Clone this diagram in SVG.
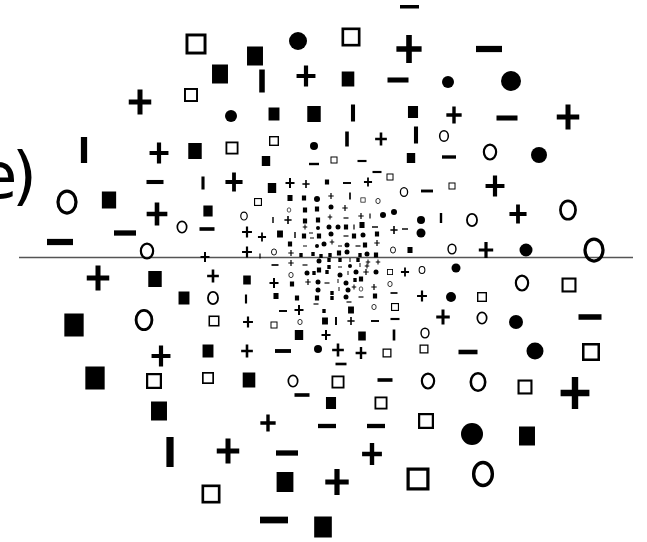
<svg xmlns="http://www.w3.org/2000/svg" width="647" height="542" viewBox="0 0 647 542">
<style>
.lbl{font-family:"DejaVu Sans","Liberation Sans",sans-serif;font-size:64px;fill:#000}
.axis{stroke:#555;stroke-width:1.5;fill:none}
</style>
<defs>
<rect id="fs" x="-0.42" y="-0.5" width="0.84" height="1" fill="#000"/>
<rect id="os" x="-0.43" y="-0.43" width="0.86" height="0.86" fill="none" stroke="#000" stroke-width="0.14"/>
<circle id="fc" r="0.5" fill="#000"/>
<ellipse id="oc" rx="0.36" ry="0.44" fill="none" stroke="#000" stroke-width="0.13"/>
<path id="pl" d="M-0.45,-0.1h0.9v0.2h-0.9zM-0.1,-0.5h0.2v1h-0.2z" fill="#000"/>
<rect id="mi" x="-0.5" y="-0.12" width="1" height="0.24" fill="#000"/>
<rect id="ba" x="-0.12" y="-0.5" width="0.24" height="1" fill="#000"/>
</defs>
<rect width="647" height="542" fill="#fff"/>
<g id="label"><text class="lbl" x="-22 12" y="198">e)</text></g>
<g id="axis"><line class="axis" x1="19" y1="257.5" x2="633" y2="257.5"/></g>
<g id="symbols">
<use href="#os" transform="translate(196 44) scale(21)"/>
<use href="#fs" transform="translate(220 74) scale(19)"/>
<use href="#pl" transform="translate(140 102) scale(25)"/>
<use href="#os" transform="translate(191 95) scale(14)"/>
<use href="#ba" transform="translate(84 150) scale(26)"/>
<use href="#pl" transform="translate(159 153) scale(21)"/>
<use href="#fs" transform="translate(195 151) scale(16)"/>
<use href="#mi" transform="translate(155 182) scale(17)"/>
<use href="#ba" transform="translate(203 183) scale(13)"/>
<use href="#oc" transform="translate(67 202) scale(25)"/>
<use href="#fs" transform="translate(109 200) scale(17)"/>
<use href="#pl" transform="translate(157 214) scale(23)"/>
<use href="#oc" transform="translate(182 227) scale(13)"/>
<use href="#fs" transform="translate(208 211) scale(11)"/>
<use href="#mi" transform="translate(207 229) scale(15)"/>
<use href="#mi" transform="translate(60 242) scale(26)"/>
<use href="#mi" transform="translate(125 233) scale(22)"/>
<use href="#oc" transform="translate(147 251) scale(17)"/>
<use href="#pl" transform="translate(205 257) scale(10)"/>
<rect x="400" y="5" width="19" height="3.5" fill="#000"/>
<use href="#fc" transform="translate(298 41) scale(18)"/>
<use href="#os" transform="translate(351 37) scale(19)"/>
<use href="#pl" transform="translate(409 49) scale(28)"/>
<use href="#fs" transform="translate(255 56) scale(19)"/>
<use href="#ba" transform="translate(262 81) scale(23)"/>
<use href="#pl" transform="translate(306 76) scale(21)"/>
<use href="#fs" transform="translate(348 79) scale(15)"/>
<use href="#mi" transform="translate(398 80) scale(21)"/>
<use href="#fc" transform="translate(231 116) scale(12)"/>
<use href="#fs" transform="translate(274 114) scale(13)"/>
<use href="#fs" transform="translate(314 114) scale(16)"/>
<use href="#ba" transform="translate(353 113) scale(17)"/>
<use href="#fs" transform="translate(413 112) scale(12)"/>
<use href="#os" transform="translate(232 148) scale(13)"/>
<use href="#os" transform="translate(274 141) scale(10)"/>
<use href="#fc" transform="translate(314 146) scale(8)"/>
<use href="#ba" transform="translate(347 139) scale(15)"/>
<use href="#pl" transform="translate(381 139) scale(13)"/>
<use href="#ba" transform="translate(416 135) scale(17)"/>
<use href="#fs" transform="translate(266 161) scale(10)"/>
<use href="#mi" transform="translate(314 164) scale(10)"/>
<use href="#os" transform="translate(334 160) scale(7)"/>
<use href="#mi" transform="translate(362 161) scale(9)"/>
<use href="#fs" transform="translate(411 158) scale(10)"/>
<use href="#mi" transform="translate(377 172) scale(9)"/>
<use href="#os" transform="translate(390 177) scale(7)"/>
<use href="#pl" transform="translate(234 182) scale(19)"/>
<use href="#fs" transform="translate(272 188) scale(10)"/>
<use href="#pl" transform="translate(290 183) scale(10)"/>
<use href="#pl" transform="translate(306 184) scale(8)"/>
<use href="#fs" transform="translate(327 182) scale(5)"/>
<use href="#mi" transform="translate(347 183) scale(8)"/>
<use href="#pl" transform="translate(368 182) scale(9)"/>
<use href="#oc" transform="translate(404 192) scale(10)"/>
<use href="#mi" transform="translate(427 191) scale(12)"/>
<use href="#os" transform="translate(258 202) scale(8)"/>
<use href="#mi" transform="translate(489 49) scale(26)"/>
<use href="#fc" transform="translate(448 82) scale(12)"/>
<use href="#fc" transform="translate(511 81) scale(20)"/>
<use href="#pl" transform="translate(454 115) scale(17)"/>
<use href="#mi" transform="translate(507 118) scale(21)"/>
<use href="#pl" transform="translate(568 117) scale(25)"/>
<use href="#oc" transform="translate(444 136) scale(12)"/>
<use href="#mi" transform="translate(449 157) scale(14)"/>
<use href="#oc" transform="translate(490 152) scale(17)"/>
<use href="#fc" transform="translate(539 155) scale(16)"/>
<use href="#os" transform="translate(452 186) scale(7)"/>
<use href="#pl" transform="translate(495 186) scale(21)"/>
<use href="#ba" transform="translate(441 218) scale(10)"/>
<use href="#oc" transform="translate(472 220) scale(14)"/>
<use href="#pl" transform="translate(518 214) scale(19)"/>
<use href="#oc" transform="translate(568 210) scale(21)"/>
<use href="#oc" transform="translate(452 249) scale(11)"/>
<use href="#pl" transform="translate(486 250) scale(16)"/>
<use href="#fc" transform="translate(526 250) scale(13)"/>
<use href="#oc" transform="translate(594 250) scale(25)"/>
<use href="#fc" transform="translate(456 268) scale(9)"/>
<use href="#pl" transform="translate(98 278) scale(25)"/>
<use href="#fs" transform="translate(155 279) scale(16)"/>
<use href="#pl" transform="translate(213 276) scale(13)"/>
<use href="#fs" transform="translate(184 298) scale(13)"/>
<use href="#oc" transform="translate(213 298) scale(14)"/>
<use href="#fs" transform="translate(74 325) scale(23)"/>
<use href="#oc" transform="translate(144 320) scale(22)"/>
<use href="#os" transform="translate(214 321) scale(11)"/>
<use href="#fs" transform="translate(208 351) scale(13)"/>
<use href="#pl" transform="translate(161 356) scale(21)"/>
<use href="#fs" transform="translate(95 378) scale(23)"/>
<use href="#os" transform="translate(154 381) scale(16)"/>
<use href="#os" transform="translate(208 378) scale(12)"/>
<use href="#fs" transform="translate(159 411) scale(19)"/>
<use href="#ba" transform="translate(170 452) scale(30)"/>
<use href="#os" transform="translate(211 494) scale(19)"/>
<use href="#fs" transform="translate(247 280) scale(9)"/>
<use href="#pl" transform="translate(274 283) scale(10)"/>
<use href="#oc" transform="translate(291 275) scale(6)"/>
<use href="#ba" transform="translate(246 299) scale(9)"/>
<use href="#fs" transform="translate(276 296) scale(6)"/>
<use href="#fs" transform="translate(297 298) scale(5)"/>
<use href="#pl" transform="translate(422 296) scale(11)"/>
<use href="#mi" transform="translate(283 311) scale(8)"/>
<use href="#pl" transform="translate(299 310) scale(10)"/>
<use href="#os" transform="translate(274 325) scale(7)"/>
<use href="#pl" transform="translate(248 322) scale(11)"/>
<use href="#oc" transform="translate(300 322) scale(6)"/>
<use href="#fs" transform="translate(325 321) scale(7)"/>
<use href="#ba" transform="translate(336 321) scale(8)"/>
<use href="#pl" transform="translate(351 321) scale(8)"/>
<use href="#mi" transform="translate(375 321) scale(8)"/>
<use href="#mi" transform="translate(395 319) scale(9)"/>
<use href="#os" transform="translate(395 307) scale(8)"/>
<use href="#oc" transform="translate(374 307) scale(6)"/>
<use href="#fs" transform="translate(351 310) scale(7)"/>
<use href="#fs" transform="translate(299 335) scale(10)"/>
<use href="#pl" transform="translate(326 335) scale(10)"/>
<use href="#fs" transform="translate(362 336) scale(9)"/>
<use href="#ba" transform="translate(394 335) scale(11)"/>
<use href="#oc" transform="translate(425 333) scale(11)"/>
<use href="#pl" transform="translate(247 351) scale(13)"/>
<use href="#mi" transform="translate(283 351) scale(16)"/>
<use href="#fc" transform="translate(318 349) scale(8)"/>
<use href="#pl" transform="translate(338 350) scale(13)"/>
<use href="#mi" transform="translate(341 364) scale(11)"/>
<use href="#pl" transform="translate(361 353) scale(12)"/>
<use href="#os" transform="translate(387 353) scale(9)"/>
<use href="#os" transform="translate(424 349) scale(9)"/>
<use href="#fs" transform="translate(249 380) scale(15)"/>
<use href="#oc" transform="translate(293 381) scale(13)"/>
<use href="#mi" transform="translate(302 395) scale(15)"/>
<use href="#os" transform="translate(338 382) scale(13)"/>
<use href="#mi" transform="translate(385 380) scale(15)"/>
<use href="#oc" transform="translate(428 381) scale(17)"/>
<use href="#fs" transform="translate(331 403) scale(12)"/>
<use href="#os" transform="translate(381 403) scale(13)"/>
<use href="#pl" transform="translate(268 423) scale(17)"/>
<use href="#mi" transform="translate(327 426) scale(18)"/>
<use href="#mi" transform="translate(376 426) scale(18)"/>
<use href="#os" transform="translate(426 421) scale(16)"/>
<use href="#pl" transform="translate(228 451) scale(25)"/>
<use href="#mi" transform="translate(287 453) scale(22)"/>
<use href="#pl" transform="translate(372 454) scale(22)"/>
<use href="#fs" transform="translate(285 482) scale(20)"/>
<use href="#pl" transform="translate(337 482) scale(26)"/>
<use href="#os" transform="translate(418 479) scale(23)"/>
<use href="#mi" transform="translate(274 520) scale(28)"/>
<use href="#fs" transform="translate(323 527) scale(21)"/>
<use href="#oc" transform="translate(522 283) scale(17)"/>
<use href="#os" transform="translate(569 285) scale(15)"/>
<use href="#fc" transform="translate(451 297) scale(10)"/>
<use href="#os" transform="translate(482 297) scale(10)"/>
<use href="#pl" transform="translate(443 317) scale(15)"/>
<use href="#oc" transform="translate(482 318) scale(13)"/>
<use href="#fc" transform="translate(516 322) scale(14)"/>
<use href="#mi" transform="translate(590 317) scale(23)"/>
<use href="#mi" transform="translate(468 352) scale(19)"/>
<use href="#fc" transform="translate(535 351) scale(17)"/>
<use href="#os" transform="translate(591 352) scale(18)"/>
<use href="#oc" transform="translate(478 382) scale(20)"/>
<use href="#os" transform="translate(525 387) scale(15)"/>
<use href="#pl" transform="translate(575 393) scale(32)"/>
<use href="#fc" transform="translate(472 434) scale(22)"/>
<use href="#fs" transform="translate(527 436) scale(19)"/>
<use href="#oc" transform="translate(483 474) scale(26)"/>
<use href="#oc" transform="translate(289 210) scale(5)"/>
<use href="#ba" transform="translate(273 220) scale(6)"/>
<use href="#pl" transform="translate(288 220) scale(8)"/>
<use href="#oc" transform="translate(244 216) scale(9)"/>
<use href="#fs" transform="translate(290 198) scale(6)"/>
<use href="#fs" transform="translate(304 198) scale(5)"/>
<use href="#fc" transform="translate(317 199) scale(6)"/>
<use href="#pl" transform="translate(331 196) scale(6)"/>
<use href="#ba" transform="translate(350 196) scale(7)"/>
<use href="#os" transform="translate(363 200) scale(5)"/>
<use href="#oc" transform="translate(378 201) scale(6)"/>
<use href="#fs" transform="translate(305 210) scale(5)"/>
<use href="#fs" transform="translate(317 209) scale(5)"/>
<use href="#fc" transform="translate(331 207) scale(5)"/>
<use href="#pl" transform="translate(345 208) scale(6)"/>
<use href="#fs" transform="translate(305 221) scale(5)"/>
<use href="#fs" transform="translate(318 220) scale(5)"/>
<use href="#pl" transform="translate(330 217) scale(5)"/>
<use href="#mi" transform="translate(346 218) scale(5)"/>
<use href="#pl" transform="translate(361 216) scale(6)"/>
<use href="#ba" transform="translate(370 216) scale(5)"/>
<use href="#fc" transform="translate(383 215) scale(6)"/>
<use href="#fc" transform="translate(394 212) scale(6)"/>
<use href="#fc" transform="translate(421 220) scale(8)"/>
<use href="#fc" transform="translate(421 233) scale(9)"/>
<use href="#pl" transform="translate(305 227) scale(5)"/>
<use href="#fc" transform="translate(318 228) scale(4)"/>
<use href="#fc" transform="translate(329 227) scale(5)"/>
<use href="#fc" transform="translate(338 227) scale(5)"/>
<use href="#fs" transform="translate(346 227) scale(5)"/>
<use href="#ba" transform="translate(354 227) scale(5)"/>
<use href="#fs" transform="translate(362 225) scale(6)"/>
<use href="#mi" transform="translate(375 227) scale(6)"/>
<use href="#pl" transform="translate(394 230) scale(8)"/>
<use href="#mi" transform="translate(405 229) scale(6)"/>
<use href="#pl" transform="translate(247 232) scale(11)"/>
<use href="#pl" transform="translate(262 237) scale(9)"/>
<use href="#fs" transform="translate(280 234) scale(7)"/>
<use href="#ba" transform="translate(295 235) scale(6)"/>
<use href="#fs" transform="translate(304 236) scale(5)"/>
<use href="#mi" transform="translate(311 233) scale(4)"/>
<use href="#mi" transform="translate(312 238) scale(4)"/>
<use href="#fs" transform="translate(319 236) scale(5)"/>
<use href="#fc" transform="translate(331 234) scale(5)"/>
<use href="#mi" transform="translate(346 236) scale(5)"/>
<use href="#fs" transform="translate(354 236) scale(5)"/>
<use href="#fc" transform="translate(363 235) scale(5)"/>
<use href="#fs" transform="translate(377 234) scale(5)"/>
<use href="#fs" transform="translate(290 244) scale(5)"/>
<use href="#mi" transform="translate(305 246) scale(4)"/>
<use href="#fc" transform="translate(317 246) scale(4)"/>
<use href="#fc" transform="translate(324 244) scale(5)"/>
<use href="#pl" transform="translate(332 242) scale(5)"/>
<use href="#mi" transform="translate(340 246) scale(4)"/>
<use href="#fc" transform="translate(347 245) scale(5)"/>
<use href="#mi" transform="translate(358 246) scale(5)"/>
<use href="#fs" transform="translate(365 245) scale(5)"/>
<use href="#pl" transform="translate(377 243) scale(6)"/>
<use href="#pl" transform="translate(247 252) scale(11)"/>
<use href="#ba" transform="translate(260 256) scale(5)"/>
<use href="#oc" transform="translate(274 252) scale(7)"/>
<use href="#pl" transform="translate(291 253) scale(6)"/>
<use href="#fs" transform="translate(301 255) scale(4)"/>
<use href="#fs" transform="translate(313 254) scale(4)"/>
<use href="#fs" transform="translate(321 256) scale(4)"/>
<use href="#fs" transform="translate(330 255) scale(4)"/>
<use href="#fs" transform="translate(339 253) scale(5)"/>
<use href="#fc" transform="translate(347 252) scale(5)"/>
<use href="#fs" transform="translate(360 255) scale(4)"/>
<use href="#fc" transform="translate(367 254) scale(5)"/>
<use href="#fs" transform="translate(376 255) scale(5)"/>
<use href="#oc" transform="translate(393 250) scale(7)"/>
<use href="#fs" transform="translate(410 250) scale(6)"/>
<use href="#mi" transform="translate(275 265) scale(7)"/>
<use href="#pl" transform="translate(291 263) scale(6)"/>
<use href="#mi" transform="translate(305 265) scale(5)"/>
<use href="#fc" transform="translate(319 261) scale(5)"/>
<use href="#fs" transform="translate(329 260) scale(4)"/>
<use href="#fs" transform="translate(340 260) scale(4)"/>
<use href="#ba" transform="translate(350 260) scale(4)"/>
<use href="#fs" transform="translate(358 260) scale(4)"/>
<use href="#pl" transform="translate(368 262) scale(5)"/>
<use href="#pl" transform="translate(378 262) scale(5)"/>
<use href="#fs" transform="translate(329 267) scale(4)"/>
<use href="#mi" transform="translate(340 267) scale(4)"/>
<use href="#fc" transform="translate(350 266) scale(4)"/>
<use href="#ba" transform="translate(360 265) scale(4)"/>
<use href="#pl" transform="translate(367 266) scale(5)"/>
<use href="#fs" transform="translate(319 270) scale(5)"/>
<use href="#fs" transform="translate(327 272) scale(4)"/>
<use href="#fc" transform="translate(307 273) scale(5)"/>
<use href="#fs" transform="translate(314 273) scale(4)"/>
<use href="#fs" transform="translate(292 284) scale(5)"/>
<use href="#pl" transform="translate(308 282) scale(6)"/>
<use href="#fc" transform="translate(318 282) scale(5)"/>
<use href="#mi" transform="translate(327 283) scale(5)"/>
<use href="#fc" transform="translate(340 275) scale(5)"/>
<use href="#ba" transform="translate(348 273) scale(4)"/>
<use href="#fc" transform="translate(356 272) scale(5)"/>
<use href="#pl" transform="translate(366 272) scale(6)"/>
<use href="#fc" transform="translate(376 272) scale(5)"/>
<use href="#os" transform="translate(390 272) scale(6)"/>
<use href="#pl" transform="translate(405 272) scale(9)"/>
<use href="#oc" transform="translate(422 270) scale(8)"/>
<use href="#ba" transform="translate(338 281) scale(4)"/>
<use href="#fc" transform="translate(346 283) scale(5)"/>
<use href="#fs" transform="translate(355 280) scale(4)"/>
<use href="#fs" transform="translate(361 279) scale(5)"/>
<use href="#fc" transform="translate(318 290) scale(5)"/>
<use href="#ba" transform="translate(339 289) scale(4)"/>
<use href="#fc" transform="translate(348 290) scale(5)"/>
<use href="#pl" transform="translate(354 287) scale(5)"/>
<use href="#oc" transform="translate(361 289) scale(5)"/>
<use href="#pl" transform="translate(374 287) scale(6)"/>
<use href="#oc" transform="translate(390 284) scale(6)"/>
<use href="#mi" transform="translate(394 293) scale(7)"/>
<use href="#fs" transform="translate(332 293) scale(4)"/>
<use href="#fs" transform="translate(332 298) scale(4)"/>
<use href="#fc" transform="translate(346 297) scale(5)"/>
<use href="#mi" transform="translate(361 297) scale(5)"/>
<use href="#fs" transform="translate(375 296) scale(5)"/>
<use href="#fs" transform="translate(317 298) scale(5)"/>
<use href="#mi" transform="translate(316 304) scale(5)"/>
<use href="#mi" transform="translate(349 302) scale(5)"/>
<use href="#fs" transform="translate(324 311) scale(4)"/>
</g>
</svg>
